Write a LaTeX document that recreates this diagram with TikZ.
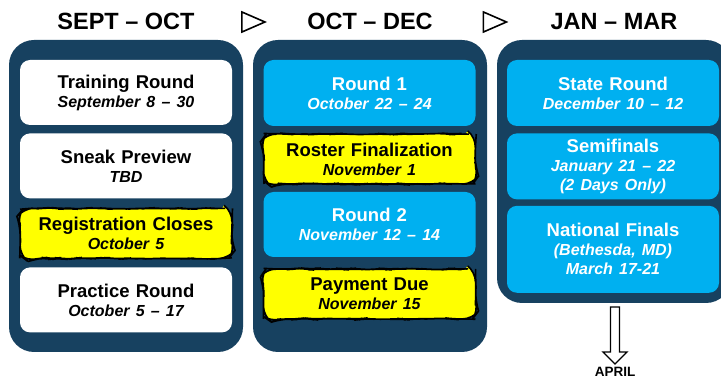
\documentclass[tikz,border=0pt]{standalone}
\usepackage{fontspec}
\setmainfont{Liberation Sans}
\usetikzlibrary{positioning, shapes.geometric, decorations.pathmorphing}
\definecolor{navy1}{RGB}{23, 65, 96}
\definecolor{sky1}{RGB}{0, 176, 240}
\definecolor{yellow1}{RGB}{255, 255, 0}
\newcommand{\when}[1]{{\fontsize{16}{19}\selectfont\itshape #1}}

\begin{document}
\pgfmathsetseed{7}
\begin{tikzpicture}[x=1pt, y=-1pt,
  panel/.style={fill=navy1, rounded corners=25pt, minimum width=234pt, inner sep=0pt},
  event/.style={rounded corners=10pt, minimum width=212pt, minimum height=65pt, text width=208pt,
    align=center, inner sep=0pt, font=\fontsize{18.5}{19}\selectfont\bfseries},
  plainbox/.style={event, fill=white},
  bluebox/.style={event, fill=sky1, text=white},
  duebox/.style={event, fill=yellow1, draw=black, line width=1.6pt, minimum height=50pt,
    decorate, decoration={random steps, segment length=7pt, amplitude=0.6pt}},
  head/.style={anchor=base, font=\fontsize{23.5}{28}\selectfont\bfseries},
  nexttri/.style={isosceles triangle, isosceles triangle stretches, draw, line width=1.6pt,
    minimum width=20pt, minimum height=23pt, inner sep=0pt}]
  \clip (0,0) rectangle (721,379);
  \fill[white] (0,0) rectangle (721,379);

  % column headers
  \node[head] (h1) at (126,30) {SEPT -- OCT};
  \node[head] (h2) at (370,30) {OCT -- DEC};
  \node[head] (h3) at (614,30) {JAN -- MAR};
  \node[nexttri] (t1) at (248.5,22) {};
  \node[nexttri] (t2) at (490,22) {};

  % panels
  \node[panel, minimum height=312pt] (p1) at (126,196) {};
  \node[panel, minimum height=312pt] (p2) at (370,196) {};
  \node[panel, minimum height=263pt] (p3) at (614,171.5) {};

  % sept - oct
  \node[plainbox] (train) at (126,92.5) {Training Round\\ \when{September 8 -- 30}};
  \node[plainbox, below=8pt of train] (sneak) {Sneak Preview\\ \when{TBD}};
  \node[duebox, below=9pt of sneak] (reg) {Registration Closes\\ \when{October 5}};
  \node[plainbox, below=8pt of reg] (practice) {Practice Round\\ \when{October 5 -- 17}};

  % oct - dec
  \node[bluebox, minimum height=66pt] (r1) at (369.5,93) {Round 1\\ \when{October 22 -- 24}};
  \node[duebox, below=7pt of r1] (roster) {Roster Finalization\\ \when{November 1}};
  \node[bluebox, below=7pt of roster] (r2) {Round 2\\ \when{November 12 -- 14}};
  \node[duebox, below=11pt of r2] (pay) {Payment Due\\ \when{November 15}};

  % jan - mar
  \node[bluebox, minimum height=66pt] (state) at (613,93) {State Round\\ \when{December 10 -- 12}};
  \node[bluebox, minimum height=66pt, below=7pt of state] (semi) {Semifinals\\ \when{January 21 -- 22}\\ \when{(2 Days Only)}};
  \node[bluebox, minimum height=87pt, below=6pt of semi] (natl) {National Finals\\ \when{(Bethesda, MD)}\\ \when{March 17-21}};

  % april
  \node[anchor=base, font=\fontsize{13.5}{16}\selectfont\bfseries, inner sep=1pt] (april) at (615,376.5) {APRIL};
  \coordinate (tail) at (615,307);
  \draw[line width=1.3pt, fill=white] ([xshift=-4.5pt]tail) -- ++(0,45) -- ++(-7.5,0)
    -- (615,364) -- (627,352) -- ++(-7.5,0) -- ([xshift=4.5pt]tail) -- cycle;
\end{tikzpicture}
\end{document}
